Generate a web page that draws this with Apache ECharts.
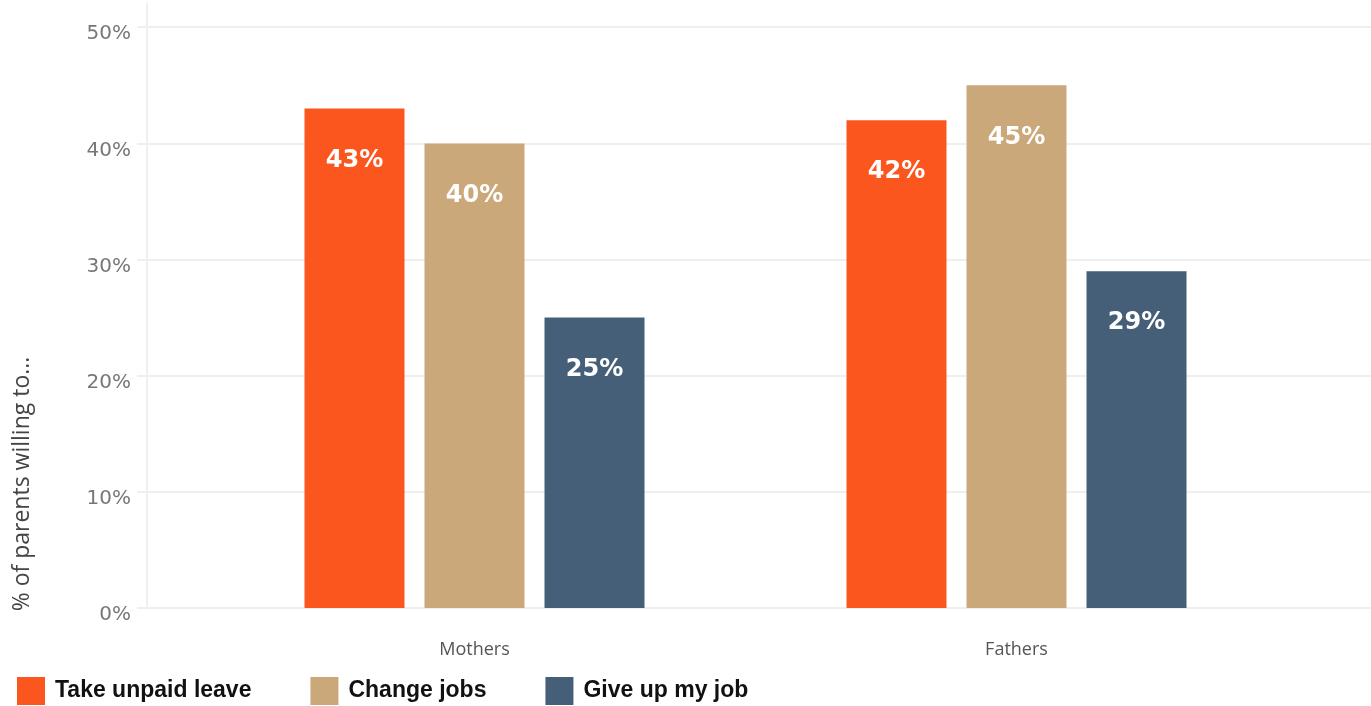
<!DOCTYPE html>
<html>
<head>
<meta charset="utf-8">
<style>
  html, body { margin: 0; padding: 0; background: #ffffff; }
  #chart { width: 1371px; height: 706px; }
</style>
<script src="https://cdn.jsdelivr.net/npm/echarts@6/dist/echarts.min.js"></script>
</head>
<body>
<div id="chart"></div>
<script>
// Share of parents willing to make each career change, by parent
const groups = ['Mothers', 'Fathers'];
const seriesNames = ['Take unpaid leave', 'Change jobs', 'Give up my job'];
const unpaidLeave = [43, 42];
const changeJobs = [40, 45];
const giveUpJob = [25, 29];
const seriesColors = ['#FC561F', '#CBA87A', '#455F78'];
const axisTitle = '% of parents willing to...';

const Y_MAX = 52;
const GRID_TOP = 4;
const GRID_BOTTOM = 98;
const GRID_LINE = '#efefef';

const chart = echarts.init(document.getElementById('chart'), null, { renderer: 'canvas' });

function barSeries(name, values, color) {
  return {
    name: name,
    type: 'bar',
    xAxisIndex: 2,
    yAxisIndex: 2,
    data: values,
    barWidth: 100,
    barGap: '20%',
    itemStyle: { color: color },
    label: {
      show: true,
      position: 'insideTop',
      distance: 40,
      color: '#ffffff',
      fontFamily: 'DejaVu Sans',
      fontWeight: 'bold',
      fontSize: 24,
      formatter: '{c}%'
    },
    emphasis: { disabled: true }
  };
}

const option = {
  animation: false,
  grid: [
    // frame carrying the value labels and gridlines
    { left: 137, right: 0, top: GRID_TOP, bottom: GRID_BOTTOM },
    // vertical rule of the value axis
    { left: 147, right: 0, top: GRID_TOP, bottom: GRID_BOTTOM },
    // bar area
    { left: 203.5, width: 1084, top: GRID_TOP, bottom: GRID_BOTTOM }
  ],
  xAxis: [
    { gridIndex: 0, type: 'value', min: 0, max: 1, show: false },
    { gridIndex: 1, type: 'value', min: 0, max: 1, show: false },
    {
      gridIndex: 2,
      type: 'category',
      data: groups,
      axisLine: { show: false },
      axisTick: { show: false },
      axisLabel: {
        margin: 33,
        color: '#555555',
        fontFamily: 'Open Sans',
        fontSize: 18
      }
    }
  ],
  yAxis: [
    {
      gridIndex: 0,
      type: 'value',
      min: 0,
      max: Y_MAX,
      interval: 10,
      axisLine: { show: false },
      axisTick: { show: false },
      splitLine: {
        show: true,
        showMaxLine: false,
        lineStyle: { color: GRID_LINE, width: 2 }
      },
      axisLabel: {
        showMaxLabel: false,
        margin: 6,
        verticalAlign: 'top',
        lineHeight: 14,
        color: '#777777',
        fontFamily: 'DejaVu Sans',
        fontSize: 20,
        formatter: '{value}%'
      }
    },
    {
      gridIndex: 1,
      type: 'value',
      min: 0,
      max: Y_MAX,
      axisLine: { show: true, lineStyle: { color: GRID_LINE, width: 2 } },
      axisTick: { show: false },
      axisLabel: { show: false },
      splitLine: { show: false }
    },
    {
      gridIndex: 2,
      type: 'value',
      min: 0,
      max: Y_MAX,
      show: false,
      splitLine: { show: false }
    }
  ],
  legend: {
    data: seriesNames,
    left: 17,
    top: 677,
    padding: 0,
    icon: 'rect',
    itemWidth: 28,
    itemHeight: 28,
    itemGap: 59,
    selectedMode: false,
    textStyle: {
      color: '#111111',
      fontFamily: 'Liberation Sans',
      fontWeight: 'bold',
      fontSize: 23,
      padding: [0, 0, 0, 5]
    }
  },
  graphic: [
    {
      type: 'text',
      x: 22,
      y: 484,
      rotation: Math.PI / 2,
      style: {
        text: axisTitle,
        fill: '#444444',
        font: '23px "Open Sans"',
        textAlign: 'center',
        textVerticalAlign: 'middle'
      }
    }
  ],
  series: [
    barSeries(seriesNames[0], unpaidLeave, seriesColors[0]),
    barSeries(seriesNames[1], changeJobs, seriesColors[1]),
    barSeries(seriesNames[2], giveUpJob, seriesColors[2])
  ]
};

chart.setOption(option);
</script>
</body>
</html>
